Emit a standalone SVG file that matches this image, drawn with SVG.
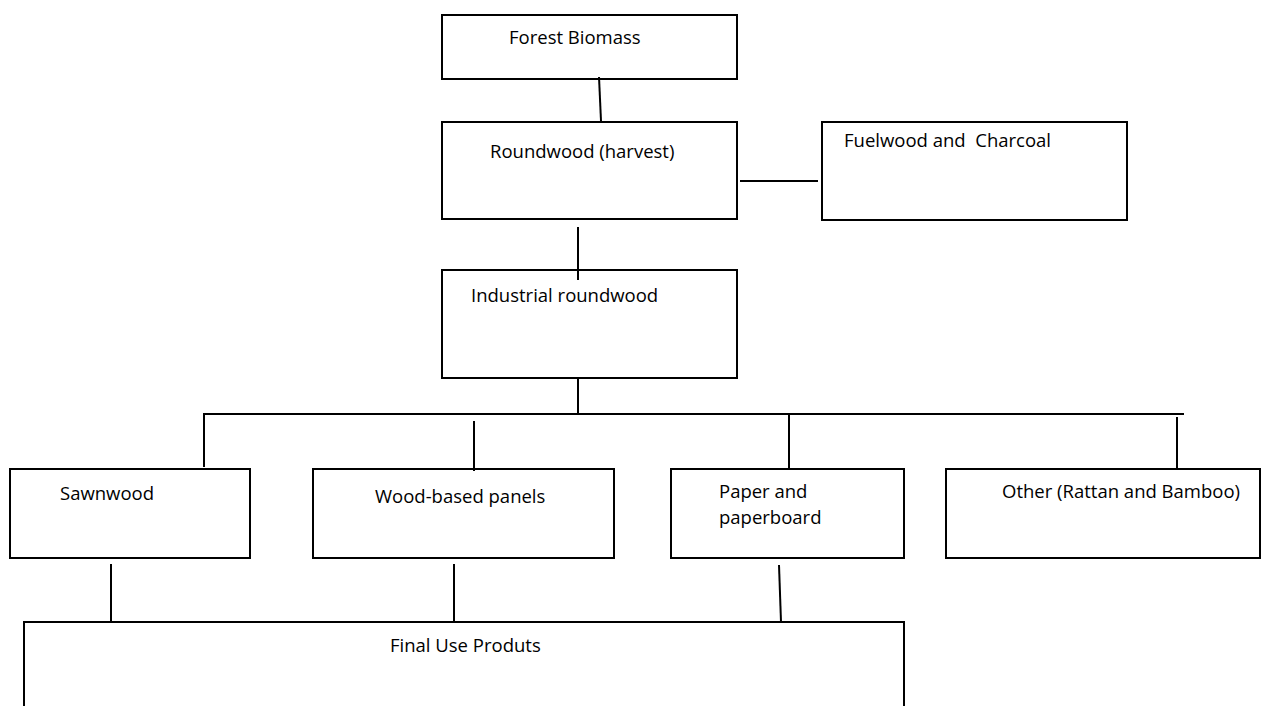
<svg xmlns="http://www.w3.org/2000/svg" width="1261" height="706" viewBox="0 0 1261 706">
<style>
.box{fill:#fff;stroke:#000;stroke-width:2}
.lbl{font-family:"Open Sans","Liberation Sans",sans-serif;font-size:18.5px;fill:#000;white-space:pre}
.con line{stroke:#000;stroke-width:2}
</style>
<rect width="1261" height="706" fill="#fff"/>
<g id="n-forest"><rect class="box" x="442" y="15" width="295" height="64"/><text class="lbl" x="509" y="44">Forest Biomass</text></g>
<g id="n-roundwood"><rect class="box" x="442" y="122" width="295" height="97"/><text class="lbl" x="490" y="158">Roundwood (harvest)</text></g>
<g id="n-fuelwood"><rect class="box" x="822" y="122" width="305" height="98"/><text class="lbl" x="844" y="147" xml:space="preserve">Fuelwood and  Charcoal</text></g>
<g id="n-industrial"><rect class="box" x="442" y="270" width="295" height="108"/><text class="lbl" x="471" y="302">Industrial roundwood</text></g>
<g id="n-sawnwood"><rect class="box" x="10" y="469" width="240" height="89"/><text class="lbl" x="60" y="500">Sawnwood</text></g>
<g id="n-panels"><rect class="box" x="313" y="469" width="301" height="89"/><text class="lbl" x="375" y="503">Wood-based panels</text></g>
<g id="n-paper"><rect class="box" x="671" y="469" width="233" height="89"/><text class="lbl" x="719" y="498">Paper and</text><text class="lbl" x="719" y="524">paperboard</text></g>
<g id="n-other"><rect class="box" x="946" y="469" width="314" height="89"/><text class="lbl" x="1002" y="498">Other (Rattan and Bamboo)</text></g>
<g id="n-final"><rect class="box" x="24" y="622" width="880" height="110"/><text class="lbl" x="390" y="652">Final Use Produts</text></g>
<g id="connectors" class="con">
<line x1="599" y1="77" x2="601" y2="121"/>
<line x1="740" y1="181" x2="818" y2="181"/>
<line x1="578" y1="227" x2="578" y2="280"/>
<line x1="578" y1="378" x2="578" y2="413"/>
<line x1="204" y1="414" x2="1184" y2="414"/>
<line x1="204" y1="413" x2="204" y2="467"/>
<line x1="474" y1="421" x2="474" y2="471"/>
<line x1="789" y1="414" x2="789" y2="469"/>
<line x1="1177" y1="417" x2="1177" y2="469"/>
<line x1="111" y1="564" x2="111" y2="621"/>
<line x1="454" y1="564" x2="454" y2="621"/>
<line x1="779" y1="565" x2="781" y2="622"/>
</g>
</svg>
